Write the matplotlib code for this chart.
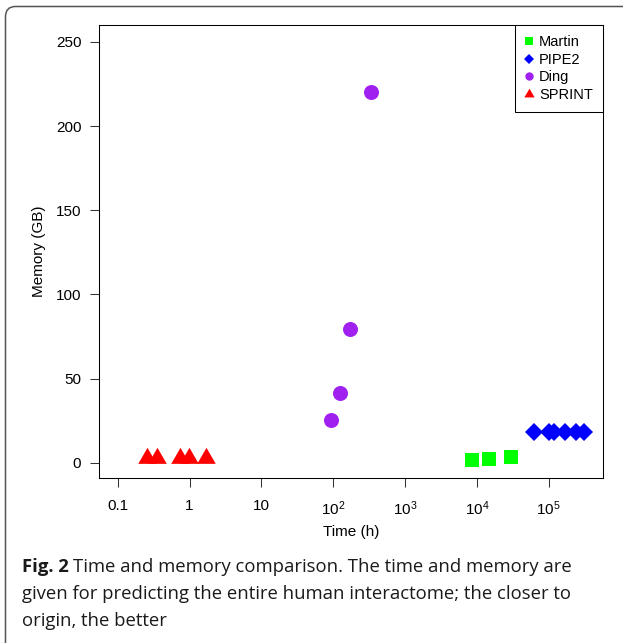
import matplotlib
matplotlib.use("Agg")
import matplotlib.pyplot as plt
from matplotlib.lines import Line2D
from matplotlib.patches import FancyBboxPatch

# time (h) and memory (GB)
martin_time = [8650, 14650, 29900]
martin_mem = [1.8, 1.9, 3.2]
pipe2_time = [62500, 101000, 118500, 168700, 240000, 310000]
pipe2_mem = [18.4, 18.4, 18.4, 18.4, 18.4, 18.4]
ding_time = [94, 125, 169, 334]
ding_mem = [25.4, 41.2, 79.4, 220]
sprint_time = [0.256, 0.353, 0.728, 0.99, 1.71]
sprint_mem = [2.8, 2.8, 2.8, 2.8, 2.8]

x_ticks = [0.1, 1, 10, 100, 1000, 1e4, 1e5]
x_labels = ["0.1", "1", "10", "$10^2$", "$10^3$", "$10^4$", "$10^5$"]
y_ticks = [0, 50, 100, 150, 200, 250]

caption_bold = "Fig. 2"
caption_lines = ["Time and memory comparison. The time and memory are",
                 "given for predicting the entire human interactome; the closer to",
                 "origin, the better"]

plt.rcParams['font.family'] = ['Liberation Sans', 'DejaVu Sans']
plt.rcParams['mathtext.fontset'] = 'custom'
plt.rcParams['mathtext.rm'] = 'Liberation Sans'
plt.rcParams['mathtext.default'] = 'regular'

fig = plt.figure(figsize=(6.23, 6.43), dpi=100)
W, H = 623, 643
ax = fig.add_axes([98.7 / W, 1 - 477.5 / H, (603.3 - 98.7) / W, (477.5 - 25) / H])

# triangle with centroid at the origin (like R pch 17)
tri = [(0, 1), (-0.866, -0.5), (0.866, -0.5)]

ax.plot(sprint_time, sprint_mem, linestyle='None', marker=tri, markersize=15.4,
        color='#FF0000', markeredgewidth=0)
ax.plot(ding_time, ding_mem, linestyle='None', marker='o', markersize=10.8,
        color='#A020F0', markeredgewidth=0)
ax.plot(martin_time, martin_mem, linestyle='None', marker='s', markersize=9.4,
        color='#00FF00', markeredgewidth=0)
ax.plot(pipe2_time, pipe2_mem, linestyle='None', marker='D', markersize=9.2,
        color='#0000FF', markeredgewidth=0)

ax.set_xscale('log')
ax.set_xlim(10 ** -1.264, 10 ** 5.759)
ax.set_ylim(-8.8, 260)
ax.set_xticks(x_ticks)
ax.set_xticklabels(x_labels)
ax.minorticks_off()
ax.set_yticks(y_ticks)
ax.tick_params(direction='out', length=6.5, width=0.75, labelsize=11, color='#333333')
ax.tick_params(axis='x', pad=9)
ax.tick_params(axis='y', pad=6)
for s in ax.spines.values():
    s.set_linewidth(0.75)
ax.set_xlabel('Time (h)', fontsize=11, labelpad=5)
ax.set_ylabel('Memory (GB)', fontsize=11, labelpad=7)

handles = [
    Line2D([], [], linestyle='None', marker='s', color='#00FF00', markersize=5.5, markeredgewidth=0),
    Line2D([], [], linestyle='None', marker='D', color='#0000FF', markersize=5, markeredgewidth=0),
    Line2D([], [], linestyle='None', marker='o', color='#A020F0', markersize=6, markeredgewidth=0),
    Line2D([], [], linestyle='None', marker=tri, color='#FF0000', markersize=8.5, markeredgewidth=0),
]
leg = ax.legend(handles, ['Martin', 'PIPE2', 'Ding', 'SPRINT'], loc='upper right',
                bbox_to_anchor=(1, 1), borderaxespad=0, fancybox=False,
                edgecolor='black', framealpha=1, fontsize=10.5, handlelength=0.5,
                handletextpad=0.45, labelspacing=0.25, borderpad=0.7)
leg.get_frame().set_linewidth(0.75)

# rounded outer border
fig.patches.append(FancyBboxPatch((5.5 / W, -0.05), 1.2, 1 - 6.5 / H + 0.05,
                                  boxstyle='round,pad=0,rounding_size=0.016',
                                  transform=fig.transFigure, fill=False,
                                  edgecolor='#555555', linewidth=1.1))

# caption
cap_font = 'Open Sans'
cap_size = 13.3
y0 = 1 - 572 / H
tb = fig.text(22 / W, y0, caption_bold, fontsize=cap_size, fontweight='bold',
              family=cap_font, va='baseline', ha='left', color='#1a1a1a')
fig.canvas.draw()
bb = tb.get_window_extent()
fig.text((bb.x1 + 4) / W, y0, caption_lines[0], fontsize=cap_size, family=cap_font,
         va='baseline', ha='left', color='#1a1a1a')
for i, line in enumerate(caption_lines[1:]):
    fig.text(22 / W, y0 - (i + 1) * 27 / H, line, fontsize=cap_size, family=cap_font,
             va='baseline', ha='left', color='#1a1a1a')

fig.savefig('out.png', dpi=100)
